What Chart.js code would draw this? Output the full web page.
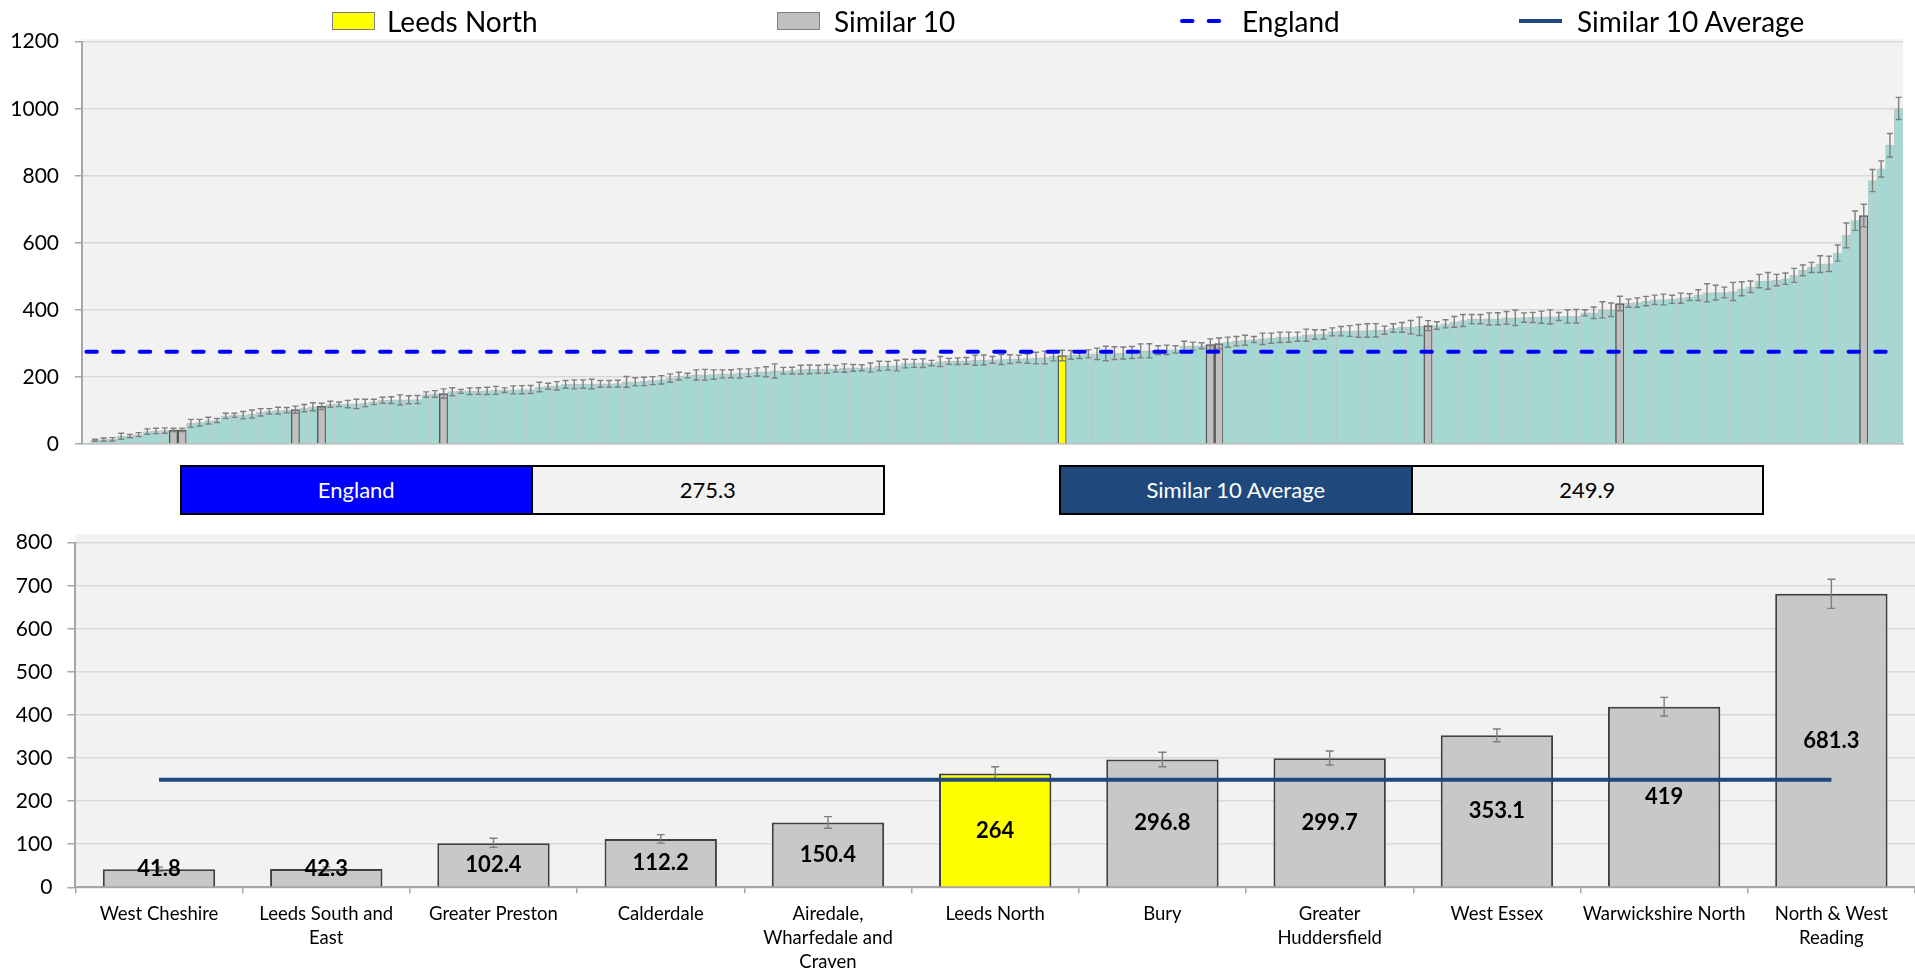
<!DOCTYPE html>
<html>
<head>
<meta charset="utf-8">
<script src="https://cdn.jsdelivr.net/npm/chart.js@4.4.1/dist/chart.umd.min.js"></script>
<style>
  html, body { margin: 0; padding: 0; background: #ffffff; }
  #wrap { position: relative; width: 1915px; height: 974px; overflow: hidden; font-family: Lato, 'Open Sans', sans-serif; color: #000; }
  #topChart { position: absolute; left: 0; top: 0; width: 1915px; height: 460px; }
  #bottomChart { position: absolute; left: 0; top: 520px; width: 1915px; height: 454px; }
  .legText { position: absolute; top: 4px; font-size: 28px; line-height: 34px; white-space: nowrap; }
  .legBox { position: absolute; top: 12px; width: 41px; height: 16px; border: 1.5px solid #7F7F7F; }
  .legLine { position: absolute; top: 17px; }
  .stat { position: absolute; top: 464.5px; height: 50px; width: 705px; box-sizing: border-box; border: 2px solid #000; display: flex; font-size: 22px; }
  .stat div { flex: 1; display: flex; align-items: center; justify-content: center; }
  .stat .name { color: #fff; border-right: 2px solid #000; }
  .stat .val { background: #F2F2F2; color: #000; }
</style>
</head>
<body>
<div id="wrap">
  <canvas id="topChart" width="1915" height="460"></canvas>
  <canvas id="bottomChart" width="1915" height="454"></canvas>

  <div class="legBox" style="left:332px;background:#FFFF00;"></div>
  <div class="legText" id="leg0" style="left:387px;"></div>
  <div class="legBox" style="left:777px;background:#BFBFBF;"></div>
  <div class="legText" id="leg1" style="left:834px;"></div>
  <svg class="legLine" style="left:1178px;" width="50" height="8"><line x1="4" y1="4" x2="46" y2="4" stroke="#0000FF" stroke-width="4" stroke-linecap="round" stroke-dasharray="10.5 16.2"/></svg>
  <div class="legText" id="leg2" style="left:1242px;"></div>
  <svg class="legLine" style="left:1519px;" width="44" height="8"><line x1="0" y1="4" x2="43" y2="4" stroke="#1F497D" stroke-width="4"/></svg>
  <div class="legText" id="leg3" style="left:1577px;"></div>

  <div class="stat" style="left:179.5px;"><div class="name" style="background:#0000FF;" id="statName0"></div><div class="val" id="statVal0"></div></div>
  <div class="stat" style="left:1059px;"><div class="name" style="background:#1F497D;" id="statName1"></div><div class="val" id="statVal1"></div></div>
</div>
<script>
// ---------------- DATA ----------------
const legendLabels = ['Leeds North', 'Similar 10', 'England', 'Similar 10 Average'];

const englandValue = 275.3;
const similarAverage = 249.9;

// All areas, ranked ascending (top chart)
const rankedValues = [
  1, 11, 13, 14, 23, 23.5, 28, 37, 39, 40,
  41.8, 42.3, 61.6, 63.6, 69.6, 70, 83.7, 85.5, 86, 89.6,
  94.5, 97.5, 99.5, 101, 102.4, 107, 111, 112.2, 118.4, 118.5,
  119, 119.5, 122.4, 125.5, 130.4, 131, 131.5, 132, 132.5, 147.4,
  149.3, 150.4, 156, 157, 157.5, 158, 158.5, 160, 160.5, 161.5,
  162, 162.5, 170, 172.2, 173.7, 177.7, 177.9, 178.7, 179, 179.3,
  179.5, 180, 185.2, 185.5, 186.6, 189.1, 191.6, 196.6, 202.6, 204.1,
  206.1, 206.5, 207.1, 209.1, 209.5, 210.5, 212.5, 215, 215.5, 218,
  218.5, 219, 222, 222.5, 223, 224, 224.5, 226.5, 227, 227.5,
  228, 233, 233.5, 234, 240, 240.5, 241, 241.5, 246, 246.5,
  247, 248, 250, 250.5, 251, 252, 253, 254, 255, 256.4,
  257.9, 262, 264, 265.8, 266, 268.8, 269, 270, 271, 271.5,
  273, 277.8, 278, 280, 281, 282, 291.7, 292, 293, 296.8,
  299.7, 303.7, 306.6, 309.6, 311.6, 313.6, 315.6, 318.1, 318.6, 320.1,
  324.6, 326.6, 327, 334.5, 336.5, 337, 337.5, 338.5, 339, 339.5,
  346, 348, 348.5, 351, 353.1, 353.5, 358.4, 364.4, 368.4, 372.4,
  372.5, 373, 373.5, 376.4, 376.5, 377, 377.5, 378.4, 379, 380.3,
  380.5, 381, 391.3, 391.5, 400.3, 400.5, 419, 420, 422, 426.2,
  430.1, 431.1, 431.5, 435, 438, 444, 451, 451.5, 452, 455,
  463, 469, 486, 486.5, 489, 493, 503, 517.8, 526.7, 536.7,
  537.5, 569.6, 622.3, 666.2, 681.3, 785.7, 820.5, 891.3, 1000.8
];

// Half width of each confidence interval
const ciHalfWidth = [
  0, 3, 5, 5, 9, 5, 6, 8, 8, 8,
  5, 5, 12, 10, 10, 6, 8, 6, 11, 12,
  11, 8, 10, 8, 10.5, 11, 12, 9.5, 9, 7,
  11, 14, 11, 8, 9, 10, 15, 12, 12, 8,
  10, 14, 12, 6, 10, 10, 11, 12, 7, 12,
  12, 12, 14, 9, 12.5, 11.5, 13.5, 12.5, 14, 10,
  10, 10, 16, 12, 12.5, 12, 12.5, 12.5, 11.5, 7,
  15, 16, 14, 12, 12, 13.5, 11.5, 12, 15, 21,
  10, 10, 13, 13, 12, 13, 10, 12.5, 10, 9,
  13.5, 14, 13, 16, 13, 12, 13, 8, 15, 9,
  10, 10, 15, 15, 10, 15, 13, 11, 14, 17.5,
  19, 14, 15.5, 13, 11, 12, 17, 21.5, 19, 18,
  18, 21, 21, 13, 14, 11, 15, 12, 9, 16.7,
  16.3, 15, 14, 15, 9, 17, 15, 15.5, 15, 13.5,
  18, 14, 14, 12, 14, 16, 19, 20, 20, 12,
  12.5, 14.5, 20, 27.5, 14.8, 11, 12, 16, 18, 14,
  14, 18, 18, 19, 23, 14, 15, 18, 21, 12,
  20, 20, 9, 17, 24, 20, 21.7, 12, 14, 14,
  14, 16, 12, 15, 10, 16, 27, 22, 16, 27,
  21, 17, 20, 25, 17, 17, 21, 16, 15, 25,
  23, 24, 37, 29, 33.7, 33, 24, 35, 33
];

// Similar 10 comparison (bottom chart)
const simCategories = [
  'West Cheshire', ['Leeds South and', 'East'], 'Greater Preston', 'Calderdale',
  ['Airedale,', 'Wharfedale and', 'Craven'], 'Leeds North', 'Bury',
  ['Greater', 'Huddersfield'], 'West Essex', 'Warwickshire North', ['North & West', 'Reading']
];
const simValues = [41.8, 42.3, 102.4, 112.2, 150.4, 264, 296.8, 299.7, 353.1, 419, 681.3];
const simLower  = [37, 37.5, 92.8, 102.5, 137, 249, 280, 283.9, 338, 397.6, 647.6];
const simUpper  = [46.8, 47.5, 113.7, 122.3, 164, 280, 313.4, 316.4, 367.5, 441, 715];

const topTicks = [0, 200, 400, 600, 800, 1000, 1200];
const bottomTicks = [0, 100, 200, 300, 400, 500, 600, 700, 800];

// ---------------- STYLE ----------------
const FONT = "Lato, 'Open Sans', sans-serif";
const COL = { teal: '#A5D8D3', tealBorder: '#C3C3C3', grey: '#BFBFBF', greyBottom: '#C8C8C8', yellow: '#FFFF00',
  dark: '#595959', err: '#7F7F7F', grid: '#D9D9D9', axis: '#A6A6A6', plot: '#F2F2F2', england: '#0000FF', avg: '#1F497D' };

legendLabels.forEach((t, i) => { document.getElementById('leg' + i).textContent = t; });
document.getElementById('statName0').textContent = legendLabels[2];
document.getElementById('statVal0').textContent = String(englandValue);
document.getElementById('statName1').textContent = legendLabels[3];
document.getElementById('statVal1').textContent = String(similarAverage);

// ---------------- PLUGINS ----------------
const plotBg = {
  id: 'plotBg',
  beforeDraw(chart, args, o) {
    const a = chart.chartArea, ctx = chart.ctx;
    ctx.save();
    ctx.fillStyle = o.color;
    ctx.fillRect(a.left, a.top - o.extraTop, a.right - a.left, a.bottom - a.top + o.extraTop);
    ctx.restore();
  }
};
const errorBars = {
  id: 'errorBars',
  afterDatasetDraw(chart, args, o) {
    if (args.index !== 0 || !o.low) return;
    const ctx = chart.ctx, y = chart.scales.y;
    ctx.save();
    ctx.strokeStyle = o.color;
    ctx.lineWidth = o.lineWidth;
    args.meta.data.forEach((bar, i) => {
      const lo = o.low[i], hi = o.high[i];
      if (!(hi > lo)) return;
      const yl = y.getPixelForValue(lo), yh = y.getPixelForValue(hi);
      ctx.beginPath();
      ctx.moveTo(bar.x, yl); ctx.lineTo(bar.x, yh);
      ctx.moveTo(bar.x - o.cap, yl); ctx.lineTo(bar.x + o.cap, yl);
      ctx.moveTo(bar.x - o.cap, yh); ctx.lineTo(bar.x + o.cap, yh);
      ctx.stroke();
    });
    ctx.restore();
  }
};
const barLabels = {
  id: 'barLabels',
  afterDatasetsDraw(chart, args, o) {
    if (!o.values) return;
    const ctx = chart.ctx, y = chart.scales.y;
    const meta = chart.getDatasetMeta(0);
    ctx.save();
    ctx.font = 'bold 22px ' + FONT;
    ctx.fillStyle = '#000';
    ctx.textAlign = 'center';
    ctx.textBaseline = 'middle';
    meta.data.forEach((bar, i) => {
      const v = o.values[i];
      ctx.fillText(String(v), bar.x, y.getPixelForValue(Math.max(v / 2, o.minPos)));
    });
    ctx.restore();
  }
};

// fixed axis width, and no extra label overflow padding, so the plot area sits where the layout padding says
const fixYAxis = w => s => { s.width = w; s.paddingTop = 0; s.paddingBottom = 0; };

// ---------------- TOP CHART ----------------
const nameOf = c => [].concat(c).join(' ');
const focusValue = simValues[simCategories.findIndex(c => nameOf(c) === legendLabels[0])];
const kind = rankedValues.map(v => v === focusValue ? 'focus' : (simValues.includes(v) ? 'similar' : 'other'));
const topLabels = rankedValues.map((_, i) => String(i + 1));

new Chart(document.getElementById('topChart'), {
  data: {
    labels: topLabels,
    datasets: [
      {
        type: 'bar', data: rankedValues, order: 2,
        backgroundColor: kind.map(k => k === 'focus' ? COL.yellow : k === 'similar' ? COL.grey : COL.teal),
        borderColor: kind.map(k => k === 'other' ? COL.tealBorder : COL.dark),
        borderWidth: kind.map(k => k === 'other' ? { top: 1, left: 0.6, right: 0.6, bottom: 0 } : 1.5),
        categoryPercentage: 1, barPercentage: 1
      },
      {
        type: 'line', data: topLabels.map(() => englandValue), order: 1,
        borderColor: COL.england, borderWidth: 4, borderDash: [10.5, 16.2], borderCapStyle: 'round',
        pointRadius: 0, fill: false
      }
    ]
  },
  options: {
    responsive: false, animation: false, devicePixelRatio: 1,
    layout: { padding: { top: 41.7, right: 12, bottom: 16, left: 0 } },
    plugins: {
      legend: { display: false }, tooltip: { enabled: false },
      plotBg: { color: COL.plot, extraTop: 2.5 },
      errorBars: {
        low: rankedValues.map((v, i) => v - ciHalfWidth[i]),
        high: rankedValues.map((v, i) => v + ciHalfWidth[i]),
        color: COL.err, lineWidth: 1.4, cap: 3
      }
    },
    scales: {
      x: {
        offset: true,
        afterFit: s => { s.height = 0; s.paddingLeft = 0; s.paddingRight = 0; },
        grid: { display: false, drawTicks: false },
        ticks: { display: false },
        border: { display: true, color: '#BFBFBF', width: 1.5 }
      },
      y: {
        min: 0, max: 1200,
        afterBuildTicks: s => { s.ticks = topTicks.map(v => ({ value: v })); },
        afterFit: fixYAxis(82),
        ticks: { color: '#000', padding: 16, font: { family: FONT, size: 21 }, callback: v => String(v) },
        grid: { color: COL.grid, lineWidth: 1.5, tickLength: 7, tickColor: COL.axis },
        border: { color: COL.axis, width: 2 }
      }
    }
  },
  plugins: [plotBg, errorBars]
});

// ---------------- BOTTOM CHART ----------------
new Chart(document.getElementById('bottomChart'), {
  data: {
    labels: simCategories,
    datasets: [
      {
        type: 'bar', data: simValues, order: 2,
        backgroundColor: simCategories.map(c => nameOf(c) === legendLabels[0] ? COL.yellow : COL.greyBottom),
        borderColor: '#404040', borderWidth: 2,
        categoryPercentage: 0.8, barPercentage: 0.84
      },
      {
        type: 'line', data: simCategories.map(() => similarAverage), order: 1,
        borderColor: COL.avg, borderWidth: 4, pointRadius: 0, fill: false
      }
    ]
  },
  options: {
    responsive: false, animation: false, devicePixelRatio: 1,
    layout: { padding: { top: 22.7, right: 0, bottom: 0, left: 0 } },
    plugins: {
      legend: { display: false }, tooltip: { enabled: false },
      plotBg: { color: COL.plot, extraTop: 8.7 },
      errorBars: { low: simLower, high: simUpper, color: COL.err, lineWidth: 1.4, cap: 4 },
      barLabels: { values: simValues, minPos: 42 }
    },
    scales: {
      x: {
        offset: true,
        afterFit: s => { s.height = 86.7; s.paddingLeft = 0; s.paddingRight = 0; },
        grid: { display: true, drawOnChartArea: false, drawTicks: true, tickLength: 6, color: COL.axis, lineWidth: 1.5 },
        ticks: { color: '#000', padding: 8.7, maxRotation: 0, autoSkip: false, font: { family: FONT, size: 18.5, lineHeight: '24px' } },
        border: { display: true, color: COL.axis, width: 2 }
      },
      y: {
        min: 0, max: 800,
        afterBuildTicks: s => { s.ticks = bottomTicks.map(v => ({ value: v })); },
        afterFit: fixYAxis(75.4),
        ticks: { color: '#000', padding: 15, font: { family: FONT, size: 21 } },
        grid: { color: COL.grid, lineWidth: 1.5, tickLength: 8, tickColor: COL.axis },
        border: { color: COL.axis, width: 2 }
      }
    }
  },
  plugins: [plotBg, errorBars, barLabels]
});
</script>
</body>
</html>
